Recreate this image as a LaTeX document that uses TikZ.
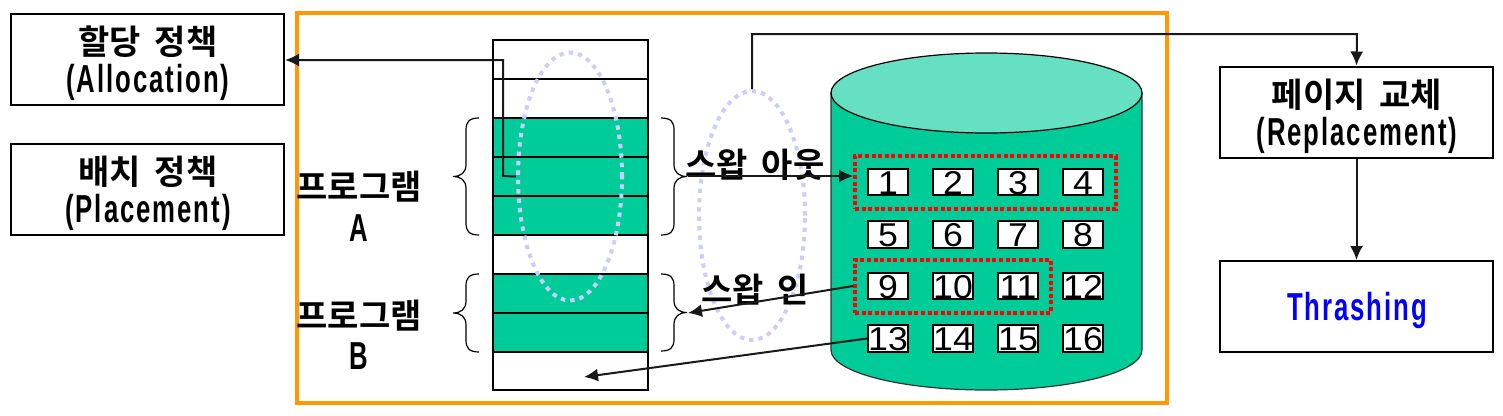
\documentclass[tikz,border=0pt]{standalone}
\usepackage{fontspec}
\usetikzlibrary{arrows.meta,shapes.geometric}
\setmainfont[FakeStretch=0.66,LetterSpace=5]{Liberation Sans Bold}
\newfontfamily\krfont[WordSpace=1.8]{Noto Sans CJK KR Bold}
\newfontfamily\digitfont[FakeStretch=1.08]{Liberation Sans}
\definecolor{teal1}{HTML}{00CC99}
\definecolor{teal2}{HTML}{66E0C2}
\definecolor{orange1}{HTML}{FF9900}
\definecolor{lilac}{HTML}{CCCCFF}
\tikzset{
  plainbox/.style={draw=black,line width=2pt,fill=white,inner sep=0pt,minimum width=273pt,minimum height=91pt},
  lbl/.style={inner sep=0pt,align=center,font=\fontsize{39}{42}\selectfont},
  krlbl/.style={inner sep=0pt,font=\krfont\fontsize{34}{36}\selectfont},
  cell/.style={draw=black,line width=2pt,fill=white,inner sep=0pt,minimum width=40pt,text height=25.5pt,text depth=1pt,font=\digitfont\fontsize{33}{33}\selectfont},
  slot/.style={draw=black,line width=2pt},
  looped/.style={draw=lilac,line width=4pt,dash pattern=on 4.4pt off 5pt,ellipse,inner sep=0pt},
  redzone/.style={draw=red,line width=3.6pt,dash pattern=on 4pt off 2.6pt,inner sep=0pt},
  conn/.style={draw=black!90,line width=2pt,-{Latex[length=14pt,width=13pt]}},
  curly/.style={draw=black,line width=1.2pt}
}
\newcommand{\curlybr}[4]{% open x, top, bottom, direction
  \draw[curly] (#1,#2) .. controls ({#1+#4*10},#2) and ({#1+#4*13},{#2+4}) .. ({#1+#4*13},{#2+12})
    -- ({#1+#4*13},{(#2+#3)/2-12}) .. controls ({#1+#4*13},{(#2+#3)/2-4}) and ({#1+#4*18},{(#2+#3)/2}) .. ({#1+#4*26},{(#2+#3)/2})
    .. controls ({#1+#4*18},{(#2+#3)/2}) and ({#1+#4*13},{(#2+#3)/2+4}) .. ({#1+#4*13},{(#2+#3)/2+12})
    -- ({#1+#4*13},{#3-12}) .. controls ({#1+#4*13},{#3-4}) and ({#1+#4*10},#3) .. (#1,#3);
}
\begin{document}
\begin{tikzpicture}[x=1pt,y=-1pt]
\useasboundingbox (0,0) rectangle (1503,415);
% frame
\node[draw=orange1,line width=3.2pt,minimum width=870pt,minimum height=390pt,inner sep=0pt] (frame) at (732,208) {};
% left boxes
\node[plainbox] (alloc) at (147.5,59.5) {};
\node[krlbl] at (148,42) {할당 정책};
\node[lbl] at (148,82.5) {(Allocation)};
\node[plainbox] (place) at (147.5,189.5) {};
\node[krlbl] at (148,172) {배치 정책};
\node[lbl] at (148,212.5) {(Placement)};
% right boxes
\node[plainbox] (repl) at (1356.5,112) {};
\node[krlbl] at (1357,95) {페이지 교체};
\node[lbl] at (1357,135.5) {(Replacement)};
\node[plainbox] (thrash) at (1356.5,306.5) {};
\node[lbl,text=blue] at (1357,310) {Thrashing};
% memory stack
\fill[teal1] (493,118) rectangle (648,235);
\fill[teal1] (493,274) rectangle (648,352);
\node[slot,minimum width=155pt,minimum height=350pt,inner sep=0pt] (stack) at (570.5,215) {};
\foreach \yy in {79,118,157,196,235,274,313,352}
  \draw[slot] (493,\yy) -- (648,\yy);
% disk
\fill[teal1,draw=black!80,line width=1.2pt] (831,93) -- (831,350) arc[start angle=180,end angle=0,x radius=155.5,y radius=40] -- (1142,93) -- cycle;
\node[ellipse,draw=black,line width=1.2pt,fill=teal2,minimum width=311pt,minimum height=80pt,inner sep=0pt] (disk) at (986.5,93) {};
% braces
\curlybr{479}{118}{235}{-1}
\curlybr{479}{274}{352}{-1}
\curlybr{661}{118}{235}{1}
\curlybr{661}{274}{351}{1}
% cells
\foreach \n/\cx/\cy in {1/888/182,2/953/182,3/1018/182,4/1083/182,
  5/888/234.5,6/953/234.5,7/1018/234.5,8/1083/234.5,
  9/888/286,10/953/286,11/1018/286,12/1083/286,
  13/888/338.5,14/953/338.5,15/1018/338.5,16/1083/338.5}
  \node[cell] (c\n) at (\cx,\cy) {\n};
% red zones
\node[redzone,minimum width=261pt,minimum height=53pt] (out) at (985.5,182.5) {};
\node[redzone,minimum width=196pt,minimum height=53pt] (in) at (953,286.5) {};
% ovals
\node[looped,minimum width=104pt,minimum height=248pt] (ova) at (570,176.5) {};
\node[looped,minimum width=106pt,minimum height=249pt] (ovb) at (752,215.5) {};
% labels
\node[krlbl] (proga) at (359,187) {프로그램};
\node[lbl] at (359,228) {A};
\node[krlbl] (progb) at (359,316) {프로그램};
\node[lbl] at (359,356) {B};
\node[krlbl] (swo) at (755,165) {스왑 아웃};
\node[krlbl] (swi) at (755,290) {스왑 인};
% connectors
\coordinate (braceA) at (688,176);
\coordinate (braceB) at (688,313);
\coordinate (freeC) at (584,377);
\draw[conn] (ova.west) -- (503,176) -- (503,60) -- (alloc.east |- 0,60);
\draw[conn] (braceA) -- (out.west |- braceA);
\draw[conn] (in.west |- 0,286) -- (braceB);
\draw[conn] (c13.west) -- (freeC);
\draw[conn] (ovb.north) -- (752,34) -- (1357,34) -- (repl.north);
\draw[conn] (repl.south) -- (thrash.north);
\end{tikzpicture}
\end{document}
